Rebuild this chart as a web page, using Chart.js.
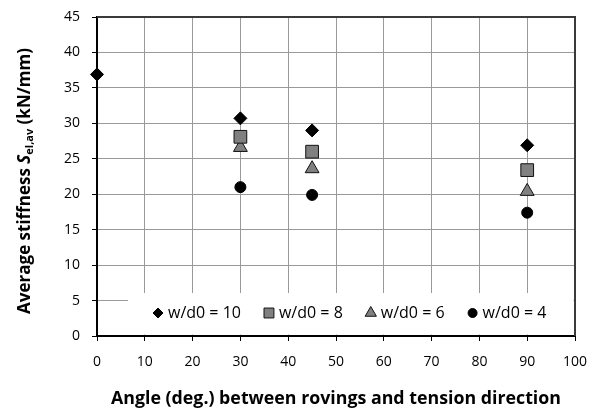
<!DOCTYPE html>
<html>
<head>
<meta charset="utf-8">
<script src="https://cdn.jsdelivr.net/npm/chart.js"></script>
<style>
  body { margin: 0; background: #fff; }
  canvas { display: block; }
</style>
</head>
<body>
<canvas id="stiffness" width="598" height="412"></canvas>
<script>
// angle between rovings and tension direction (deg.)
const angles10 = [0, 30, 45, 90];
const angles = [30, 45, 90];
// average stiffness S_el,av (kN/mm) per w/d0 ratio
const stiff10 = [36.9, 30.7, 29, 26.9];
const stiff8 = [28.1, 26, 23.4];
const stiff6 = [26.6, 23.6, 20.4];
const stiff4 = [21, 19.9, 17.4];
const seriesLabels = ['w/d0 = 10', 'w/d0 = 8', 'w/d0 = 6', 'w/d0 = 4'];
const xTicks = { min: 0, max: 100, step: 10 };
const yTicks = { min: 0, max: 45, step: 5 };

const FONT = '"Open Sans", Lato, sans-serif';

function points(xs, ys) {
    return xs.map((x, i) => ({ x: x, y: ys[i] }));
}

// legend markers are a little smaller than the plotted ones
const legendRadius = [5, 7, 6.5, 4.5];

const legendPlugin = {
    id: 'insideLegend',
    beforeDatasetsDraw(chart) {
        const ctx = chart.ctx;
        const area = chart.chartArea;
        const top = 293;
        ctx.save();
        ctx.fillStyle = '#fff';
        ctx.fillRect(128, top, area.right - 1.5 - 128, area.bottom - 1.5 - top);
        ctx.restore();
    },
    afterDatasetsDraw(chart) {
        const ctx = chart.ctx;
        const y = 313;
        let x = 158;
        ctx.save();
        ctx.font = '16px ' + FONT;
        ctx.textBaseline = 'middle';
        chart.data.datasets.forEach((ds, i) => {
            ctx.fillStyle = ds.backgroundColor;
            ctx.strokeStyle = ds.borderColor;
            ctx.lineWidth = 1;
            Chart.helpers.drawPoint(ctx, {
                pointStyle: ds.pointStyle,
                radius: legendRadius[i],
                rotation: 0,
                borderWidth: 1
            }, x, y);
            ctx.fillStyle = '#000';
            ctx.fillText(ds.label, x + 10, y);
            x += 10 + ctx.measureText(ds.label).width + 28;
        });
        ctx.restore();
    }
};

const framePlugin = {
    id: 'frame',
    afterDraw(chart) {
        const ctx = chart.ctx;
        const a = chart.chartArea;
        ctx.save();
        ctx.strokeStyle = '#3a3a3a';
        ctx.lineWidth = 2;
        ctx.beginPath();
        ctx.moveTo(a.left, a.top);
        ctx.lineTo(a.right, a.top);
        ctx.lineTo(a.right, a.bottom);
        ctx.stroke();

        // y title with italic S and subscript
        const parts = [
            { t: 'Average stiffness ', f: 'bold 17px ' + FONT, dy: 0 },
            { t: 'S', f: 'italic bold 17px ' + FONT, dy: 0 },
            { t: 'el,av', f: 'bold 11px ' + FONT, dy: 5 },
            { t: ' (kN/mm)', f: 'bold 17px ' + FONT, dy: 0 }
        ];
        let total = 0;
        parts.forEach(p => { ctx.font = p.f; p.w = ctx.measureText(p.t).width; total += p.w; });
        ctx.translate(25, 181);
        ctx.rotate(-Math.PI / 2);
        ctx.fillStyle = '#000';
        ctx.textBaseline = 'middle';
        let x = -total / 2;
        parts.forEach(p => {
            ctx.font = p.f;
            ctx.fillText(p.t, x, p.dy);
            x += p.w;
        });
        ctx.restore();
    }
};

const gridStyle = {
    color: '#9a9a9a',
    lineWidth: 1,
    borderDash: [2, 1],
    drawTicks: true,
    tickLength: 5,
    tickColor: '#000',
    tickWidth: 1,
    tickBorderDash: []
};

new Chart(document.getElementById('stiffness'), {
    type: 'scatter',
    data: {
        datasets: [
            {
                label: seriesLabels[0],
                data: points(angles10, stiff10),
                pointStyle: 'rectRot',
                pointRadius: 6.5,
                backgroundColor: '#000',
                borderColor: '#000',
                borderWidth: 1,
                clip: false
            },
            {
                label: seriesLabels[1],
                data: points(angles, stiff8),
                pointStyle: 'rect',
                pointRadius: 9,
                backgroundColor: '#808080',
                borderColor: '#111',
                borderWidth: 1,
                clip: false
            },
            {
                label: seriesLabels[2],
                data: points(angles, stiff6),
                pointStyle: 'triangle',
                pointRadius: 8,
                backgroundColor: '#808080',
                borderColor: '#111',
                borderWidth: 1,
                clip: false
            },
            {
                label: seriesLabels[3],
                data: points(angles, stiff4),
                pointStyle: 'circle',
                pointRadius: 5.5,
                backgroundColor: '#000',
                borderColor: '#000',
                borderWidth: 1,
                clip: false
            }
        ]
    },
    options: {
        responsive: false,
        animation: false,
        events: [],
        layout: { padding: { left: 0, right: 23, top: 17, bottom: 0 } },
        plugins: {
            legend: { display: false },
            tooltip: { enabled: false }
        },
        scales: {
            x: {
                type: 'linear',
                min: xTicks.min,
                max: xTicks.max,
                ticks: {
                    stepSize: xTicks.step,
                    color: '#000',
                    padding: 13,
                    maxRotation: 0,
                    font: { family: FONT, size: 14 }
                },
                grid: gridStyle,
                border: { display: true, color: '#000', width: 2, dash: [] },
                title: {
                    display: true,
                    text: 'Angle (deg.) between rovings and tension direction',
                    color: '#000',
                    font: { family: FONT, size: 17.8, weight: 'bold' },
                    padding: { top: 0, bottom: 2 }
                },
                afterFit(scale) {
                    scale.height = 76;
                    scale.paddingLeft = 0;
                    scale.paddingRight = 0;
                }
            },
            y: {
                type: 'linear',
                min: yTicks.min,
                max: yTicks.max,
                ticks: {
                    stepSize: yTicks.step,
                    color: '#000',
                    padding: 12,
                    font: { family: FONT, size: 14 }
                },
                grid: gridStyle,
                border: { display: true, color: '#000', width: 2, dash: [] },
                afterFit(scale) {
                    scale.width = 97;
                    scale.paddingTop = 0;
                    scale.paddingBottom = 0;
                }
            }
        }
    },
    plugins: [legendPlugin, framePlugin]
});
</script>
</body>
</html>
